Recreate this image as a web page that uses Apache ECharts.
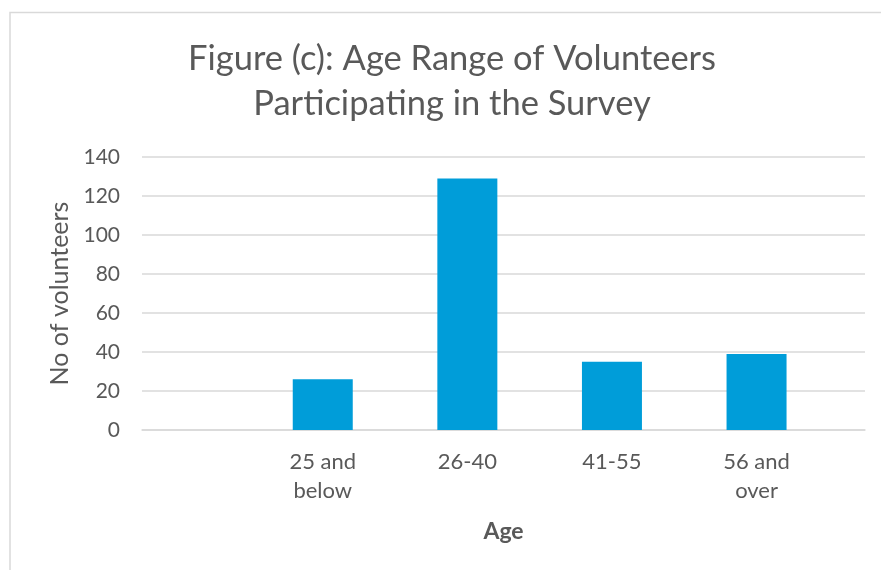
<!DOCTYPE html>
<html>
<head>
<meta charset="utf-8">
<script src="https://cdn.jsdelivr.net/npm/echarts@6/dist/echarts.min.js"></script>
<style>
html,body{margin:0;padding:0;background:#fff;}
#chart{width:881px;height:570px;}
</style>
</head>
<body>
<div id="chart"></div>
<script>
const titleLines = ['Figure (c): Age Range of Volunteers', 'Participating in the Survey'];
const categories = ['25 and below', '26-40', '41-55', '56 and over'];
const volunteers = [26, 129, 35, 39];
const yTicks = { min: 0, max: 140, interval: 20 };
const xAxisTitle = 'Age';
const yAxisTitle = 'No of volunteers';

// Category slots: each age group sits on every second slot of a 10-slot band axis
const slots = [''];
const slotValues = [null];
categories.forEach((c, i) => {
  slots.push('', c);
  slotValues.push(null, volunteers[i]);
});
slots.push('');
slotValues.push(null);

const FONT = 'Lato';
const TXT = '#595959';
const GRID = '#d9d9d9';

const chart = echarts.init(document.getElementById('chart'), null, { renderer: 'canvas' });
chart.setOption({
  animation: false,
  backgroundColor: '#ffffff',
  graphic: [{
    type: 'rect',
    shape: { x: 10, y: 12.5, width: 1000, height: 700 },
    style: { fill: 'none', stroke: GRID, lineWidth: 1.5 },
    silent: true, z: -1
  }, {
    type: 'text',
    x: 452,
    y: 36,
    style: {
      text: titleLines.join('\n'),
      fontFamily: FONT, fontSize: 34.5, fontWeight: 'normal', fill: TXT,
      lineHeight: 45, align: 'center', verticalAlign: 'top'
    },
    silent: true
  }],
  grid: { left: 142, right: 16, top: 157, bottom: 140, containLabel: false },
  xAxis: {
    type: 'category',
    data: slots,
    name: xAxisTitle,
    nameLocation: 'middle',
    nameGap: 90,
    nameTextStyle: { fontFamily: FONT, fontSize: 23, fontWeight: 'bold', color: TXT },
    axisLine: { show: true, lineStyle: { color: GRID, width: 1.5 } },
    axisTick: { show: false },
    axisLabel: {
      interval: 0,
      margin: 17,
      fontFamily: FONT, fontSize: 22, color: TXT, lineHeight: 29,
      formatter: v => v.replace(' and ', ' and\n')
    }
  },
  yAxis: {
    type: 'value',
    min: yTicks.min, max: yTicks.max, interval: yTicks.interval,
    name: yAxisTitle,
    nameLocation: 'middle',
    nameGap: 68,
    nameTextStyle: { fontFamily: FONT, fontSize: 25, color: TXT },
    axisLine: { show: false },
    axisTick: { show: false },
    axisLabel: { margin: 22, fontFamily: FONT, fontSize: 21, color: TXT },
    splitLine: { lineStyle: { color: GRID, width: 1.5 } }
  },
  series: [{
    type: 'bar',
    data: slotValues,
    barWidth: 60,
    itemStyle: { color: '#009DD9' }
  }]
});
</script>
</body>
</html>
